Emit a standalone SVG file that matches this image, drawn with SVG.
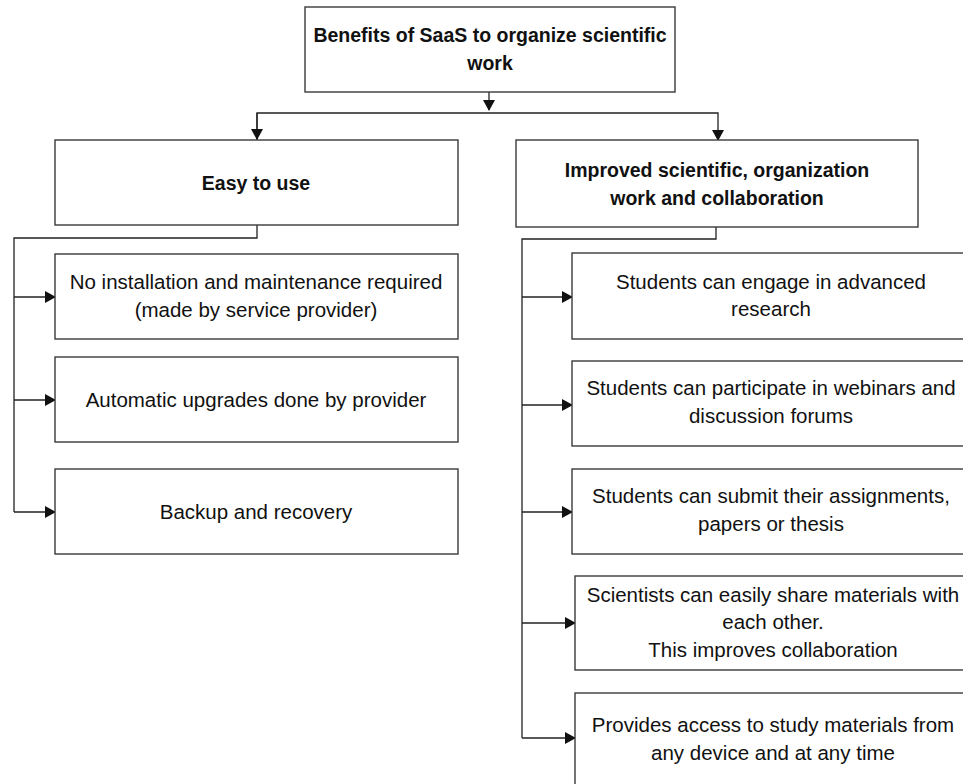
<svg xmlns="http://www.w3.org/2000/svg" width="963" height="784" viewBox="0 0 963 784">
<style>
.box{fill:#fff;stroke:#3a3a3a;stroke-width:1.4}
.t{font-family:"Liberation Sans",Arial,sans-serif;font-size:20.5px;fill:#111;text-anchor:middle}
.b{font-weight:bold;font-size:19.5px}
.c{fill:none;stroke:#222;stroke-width:1.3}
</style>
<defs>
<marker id="ah" markerWidth="11" markerHeight="12" refX="10" refY="6" orient="auto" markerUnits="userSpaceOnUse">
<path d="M0,0 L11,6 L0,12 Z" fill="#111"/>
</marker>
</defs>
<rect width="963" height="784" fill="#fff"/>
<g id="connectors" class="c">
<path d="M489,92 V110" marker-end="url(#ah)"/>
<path d="M257,140 V113 H718 V140" marker-end="url(#ah)"/>
<path d="M257,113 V139" marker-end="url(#ah)"/>
<path d="M257,225 V238 H14 V512"/>
<path d="M14,297 H55" marker-end="url(#ah)"/>
<path d="M14,400 H55" marker-end="url(#ah)"/>
<path d="M14,512 H55" marker-end="url(#ah)"/>
<path d="M716,227 V239 H522 V738"/>
<path d="M522,297 H572" marker-end="url(#ah)"/>
<path d="M522,405 H572" marker-end="url(#ah)"/>
<path d="M522,512 H572" marker-end="url(#ah)"/>
<path d="M522,623 H575" marker-end="url(#ah)"/>
<path d="M522,738 H575" marker-end="url(#ah)"/>
</g>
<g id="root"><rect class="box" x="305" y="7" width="370" height="85"/>
<text class="t b" x="490" y="42">Benefits of SaaS to organize scientific</text>
<text class="t b" x="490" y="70">work</text></g>
<g id="easy"><rect class="box" x="55" y="140" width="403" height="85"/>
<text class="t b" x="256" y="190">Easy to use</text></g>
<g id="improved"><rect class="box" x="516" y="140" width="402" height="87"/>
<text class="t b" x="717" y="177">Improved scientific, organization</text>
<text class="t b" x="717" y="205">work and collaboration</text></g>
<g id="l1"><rect class="box" x="55" y="254" width="403" height="85"/>
<text class="t" x="256" y="289">No installation and maintenance required</text>
<text class="t" x="256" y="317">(made by service provider)</text></g>
<g id="l2"><rect class="box" x="55" y="357" width="403" height="85"/>
<text class="t" x="256" y="407">Automatic upgrades done by provider</text></g>
<g id="l3"><rect class="box" x="55" y="469" width="403" height="85"/>
<text class="t" x="256" y="519">Backup and recovery</text></g>
<g id="r1"><rect class="box" x="572" y="253" width="400" height="86"/>
<text class="t" x="771" y="289">Students can engage in advanced</text>
<text class="t" x="771" y="316">research</text></g>
<g id="r2"><rect class="box" x="572" y="361" width="400" height="85"/>
<text class="t" x="771" y="395">Students can participate in webinars and</text>
<text class="t" x="771" y="423">discussion forums</text></g>
<g id="r3"><rect class="box" x="572" y="469" width="400" height="85"/>
<text class="t" x="771" y="503">Students can submit their assignments,</text>
<text class="t" x="771" y="531">papers or thesis</text></g>
<g id="r4"><rect class="box" x="575" y="576" width="400" height="94"/>
<text class="t" x="773" y="602">Scientists can easily share materials with</text>
<text class="t" x="773" y="629">each other.</text>
<text class="t" x="773" y="657">This improves collaboration</text></g>
<g id="r5"><rect class="box" x="575" y="693" width="400" height="100"/>
<text class="t" x="773" y="732">Provides access to study materials from</text>
<text class="t" x="773" y="760">any device and at any time</text></g>
</svg>
